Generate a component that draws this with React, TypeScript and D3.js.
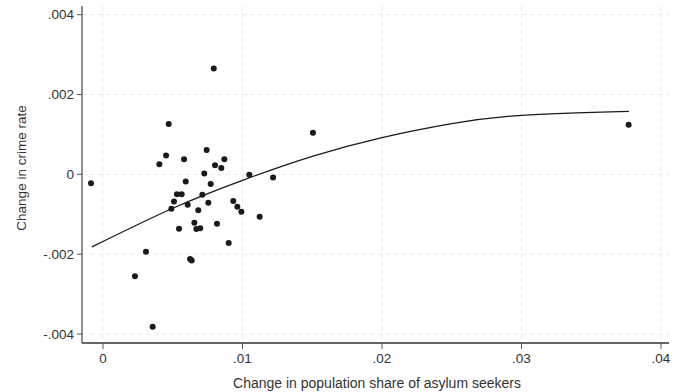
import React from 'react'
import * as d3 from 'd3'

// scatter points: change in asylum-seeker share vs change in crime rate
const shareChange = [
  -0.00086, 0.00794, 0.00471, 0.01505, 0.00743, 0.00452, 0.00404, 0.00581, 0.0087, 0.00803,
  0.00848, 0.00726, 0.01049, 0.01219, 0.00593, 0.00772, 0.0053, 0.00564, 0.00712, 0.00509,
  0.0049, 0.00607, 0.00755, 0.00934, 0.00963, 0.00992, 0.01123, 0.00683, 0.00655, 0.00545,
  0.00669, 0.00697, 0.00817, 0.00901, 0.00308, 0.00624, 0.00636, 0.00229, 0.00356, 0.03768,
]
const crimeChange = [
  -0.00022, 0.00265, 0.00126, 0.00104, 0.00061, 0.00047, 0.00025, 0.00038, 0.00038, 0.00023,
  0.00016, 0.00002, -0.00001, -0.00008, -0.00018, -0.00024, -0.0005, -0.0005, -0.00051, -0.00068,
  -0.00086, -0.00076, -0.00071, -0.00067, -0.00081, -0.00094, -0.00106, -0.0009, -0.00121, -0.00136,
  -0.00137, -0.00135, -0.00124, -0.00172, -0.00194, -0.00212, -0.00216, -0.00255, -0.00382, 0.00124,
]

// quadratic fit line
const fitX = [-0.0008, 0.005, 0.01, 0.015, 0.02, 0.025, 0.03, 0.0377]
const fitY = [-0.00182, -0.00085, -0.00015, 0.00045, 0.00092, 0.00127, 0.00148, 0.00158]

const xTicks = [0, 0.01, 0.02, 0.03, 0.04]
const xTickLabels = ['0', '.01', '.02', '.03', '.04']
const yTicks = [0.004, 0.002, 0, -0.002, -0.004]
const yTickLabels = ['.004', '.002', '0', '-.002', '-.004']

const width = 673
const height = 392
const plot = { left: 82, right: 669, top: 6, bottom: 343 }
const font = '"Liberation Sans", Arial, sans-serif'
const fs = 13.5

export default function App() {
  const x = d3.scaleLinear().domain([0, 0.04]).range([103, 661])
  const y = d3.scaleLinear().domain([-0.004, 0.004]).range([334, 14.7])

  const line = d3.line<number>()
    .x((d, i) => x(fitX[i]))
    .y(d => y(d))
    .curve(d3.curveNatural)

  return (
    <svg width={width} height={height} style={{ position: 'absolute', left: 0, top: 0, background: '#fff' }}>
      {/* grid */}
      {xTicks.map(t => (
        <line key={'gx' + t} x1={x(t)} x2={x(t)} y1={plot.top} y2={plot.bottom}
          stroke="#ebebeb" strokeWidth={1} strokeDasharray="5,3" />
      ))}
      {yTicks.map(t => (
        <line key={'gy' + t} x1={plot.left} x2={plot.right} y1={y(t)} y2={y(t)}
          stroke="#ebebeb" strokeWidth={1} strokeDasharray="5,3" />
      ))}

      {/* axes */}
      <line x1={plot.left} x2={plot.left} y1={plot.top} y2={plot.bottom} stroke="#555" strokeWidth={1.3} />
      <line x1={plot.left} x2={plot.right} y1={plot.bottom} y2={plot.bottom} stroke="#333" strokeWidth={1.3} />
      {yTicks.map((t, i) => (
        <g key={'yt' + t}>
          <line x1={plot.left - 5} x2={plot.left} y1={y(t)} y2={y(t)} stroke="#555" strokeWidth={1} />
          <text x={plot.left - 8} y={y(t)} dy="0.35em" textAnchor="end" fontFamily={font} fontSize={fs} fill="#333">
            {yTickLabels[i]}
          </text>
        </g>
      ))}
      {xTicks.map((t, i) => (
        <g key={'xt' + t}>
          <line x1={x(t)} x2={x(t)} y1={plot.bottom} y2={plot.bottom + 6} stroke="#555" strokeWidth={1} />
          <text x={x(t)} y={362.7} textAnchor="middle" fontFamily={font} fontSize={fs} fill="#333">
            {xTickLabels[i]}
          </text>
        </g>
      ))}

      {/* titles */}
      <text x={377} y={388} textAnchor="middle" fontFamily={font} fontSize={14} fill="#333">
        Change in population share of asylum seekers
      </text>
      <text transform="translate(26,168) rotate(-90)" textAnchor="middle" fontFamily={font} fontSize={fs} fill="#333">
        Change in crime rate
      </text>

      {/* fit line */}
      <path d={line(fitY) || ''} fill="none" stroke="#1a1a1a" strokeWidth={1.3} />

      {/* points */}
      {shareChange.map((v, i) => (
        <circle key={i} cx={x(v)} cy={y(crimeChange[i])} r={3} fill="#1a1a1a" />
      ))}
    </svg>
  )
}
